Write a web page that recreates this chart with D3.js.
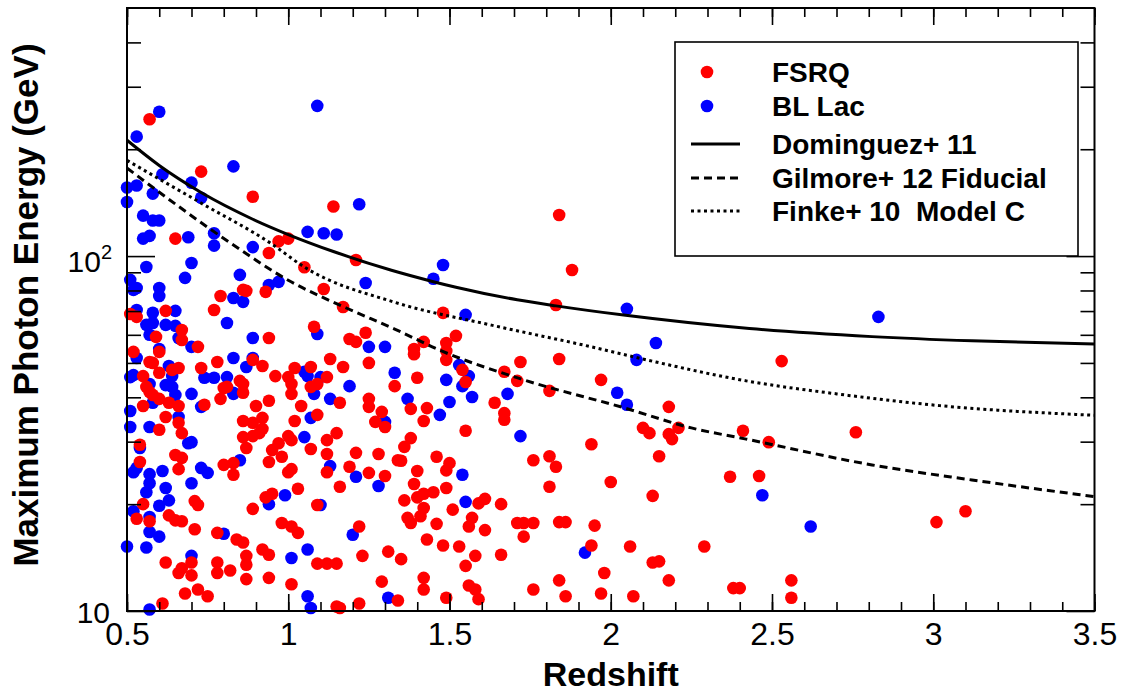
<!DOCTYPE html>
<html>
<head>
<meta charset="utf-8">
<script src="https://cdn.jsdelivr.net/npm/d3@7"></script>
<style>
  body { margin: 0; background: #fff; }
  svg { display: block; }
  text { font-family: "Liberation Sans", Arial, Helvetica, sans-serif; }
</style>
</head>
<body>
<svg id="chart" width="1123" height="694"></svg>
<script>
// data: [redshift, max photon energy in GeV]
var fsrq = [
  [0.57,243],[0.73,173],[0.89,147],[1.14,138],[0.65,112],[0.97,110],[1.00,112],[0.94,102],[1.05,93],[1.21,97.5],
  [0.86,80.3],[0.87,79.8],[0.93,79.3],[1.11,80.8],[0.79,77.2],[0.77,70.5],[1.17,71.9],[0.51,68.7],[0.53,67.4],[0.62,70.1],
  [0.67,61.9],[0.59,59.2],[0.67,58.0],[1.08,63.2],[0.94,58.8],[1.19,58.4],[1.21,57.3],[1.24,60.8],[0.52,53.7],[0.60,53.7],
  [0.72,55.5],[1.25,50.0],[0.57,50.3],[0.58,50.0],[0.64,47.8],[0.66,48.4],[0.78,50.3],[0.89,51.0],[0.73,48.4],[0.92,49.0],
  [0.55,45.9],[0.60,46.9],[0.85,44.5],[0.86,43.6],[0.81,42.8],[0.80,42.5],[0.86,41.2],[0.96,45.9],[1.00,45.6],[1.02,48.4],
  [1.07,48.7],[1.13,51.3],[1.17,48.7],[1.12,45.6],[1.01,43.6],[1.07,42.8],[1.09,43.6],[1.01,40.9],[1.33,43.0],[0.56,42.8],
  [0.57,41.4],[0.58,40.6],[0.60,39.6],[0.55,37.8],[0.63,38.6],[0.66,37.8],[0.74,38.1],[0.79,39.6],[0.90,37.8],[0.94,39.1],
  [1.16,38.6],[1.04,37.8],[1.25,39.6],[1.25,37.6],[1.29,36.4],[1.27,34.1],[1.30,33.0],[0.62,35.2],[0.66,33.9],[0.60,32.4],
  [0.67,31.7],[0.86,34.3],[0.89,33.9],[0.92,35.0],[0.92,32.6],[1.02,34.3],[1.09,35.7],[1.00,31.1],[1.15,31.7],[1.12,30.3],
  [0.86,30.9],[0.89,31.1],[0.54,29.4],[0.65,27.5],[0.67,27.0],[0.54,26.3],[0.66,25.1],[0.80,25.8],[0.83,24.2],[0.83,26.1],
  [0.87,28.8],[0.91,31.7],[0.55,20.0],[0.53,18.2],[0.57,17.9],[0.63,18.6],[0.65,18.0],[0.67,17.9],[0.71,20.4],[0.72,19.9],
  [0.71,17.0],[0.78,16.6],[0.84,15.9],[0.86,15.6],[0.62,13.7],[0.66,12.8],[0.67,13.2],[0.70,13.7],[0.70,12.6],[0.68,11.2],
  [0.72,11.5],[0.75,11.0],[0.78,13.7],[0.78,12.8],[0.82,13.0],[0.87,14.3],[0.87,13.5],[0.87,12.3],[0.92,14.9],[0.94,14.4],
  [0.94,12.4],[1.01,11.9],[1.09,13.6],[1.12,13.6],[1.15,13.6],[1.23,14.3],[1.31,14.7],[1.29,12.1],[1.15,10.3],[1.16,10.2],
  [1.22,10.5],[1.34,10.7],[0.61,10.5],[0.89,19.4],[0.93,20.9],[0.95,21.4],[1.03,22.1],[0.98,17.7],[1.01,17.3],[1.03,16.6],
  [1.22,17.3],[1.09,19.9],[1.16,22.4],[1.30,24.0],[1.25,24.5],[1.19,25.5],[1.34,26.6],[1.12,24.6],[1.07,28.6],[1.12,27.7],
  [1.21,27.9],[1.28,27.7],[1.01,30.3],[0.95,28.4],[0.97,29.7],[0.98,27.2],[0.94,26.3],[1.00,24.6],[1.01,25.1],[1.83,72.8],
  [1.48,69.2],[1.52,59.6],[1.42,57.3],[1.39,54.7],[1.39,52.9],[1.49,56.9],[1.49,54.0],[1.49,51.0],[1.72,50.3],[1.84,51.3],
  [1.40,45.4],[1.54,47.8],[1.55,44.2],[1.67,47.2],[1.71,44.5],[1.97,44.8],[1.81,41.7],[2.18,37.6],[1.64,38.6],[1.67,36.1],
  [1.67,34.6],[1.38,37.1],[1.43,37.3],[1.42,34.3],[1.55,32.2],[2.10,32.8],[2.12,31.7],[2.18,31.5],[2.21,32.8],[2.19,30.5],
  [2.41,32.2],[1.94,29.5],[1.38,30.7],[1.36,29.0],[2.15,27.3],[1.76,26.6],[1.81,27.3],[1.83,25.5],[1.46,27.2],[1.50,26.1],
  [1.49,24.9],[1.40,24.8],[1.35,26.5],[1.39,22.8],[1.49,22.2],[1.45,21.6],[1.42,21.4],[1.40,20.9],[1.36,20.5],[1.81,22.4],
  [2.00,23.1],[2.37,23.9],[2.13,21.1],[1.59,20.1],[1.61,20.7],[1.66,20.0],[1.42,19.5],[1.41,18.5],[1.37,18.3],[1.38,17.7],
  [1.51,19.3],[1.57,18.3],[1.56,17.3],[1.46,17.6],[1.61,16.9],[1.71,17.7],[1.73,17.7],[1.76,17.7],[1.73,16.2],[1.84,17.8],
  [1.86,17.8],[1.95,17.4],[1.43,15.9],[1.48,15.3],[1.53,15.2],[1.58,14.3],[1.55,13.4],[1.66,14.4],[1.35,14.0],[1.94,15.3],
  [2.06,15.2],[2.29,15.2],[2.13,13.7],[2.15,13.8],[1.98,12.8],[2.18,12.2],[1.42,12.4],[1.42,11.5],[1.56,11.8],[1.58,11.5],
  [1.59,10.8],[1.49,10.9],[1.76,11.5],[1.84,12.2],[1.86,11.0],[1.97,11.2],[2.07,11.0],[2.38,11.6],[2.40,11.6],[2.53,50.6],
  [2.76,31.9],[2.49,29.9],[2.46,24.0],[3.01,17.8],[3.10,19.1],[2.56,12.2],[2.56,10.9],[1.84,130.5],[1.88,91.4]
];

var blLac = [
  [0.60,255],[0.53,217],[1.09,265],[0.83,179],[0.61,170],[0.70,161],[0.50,156],[0.53,158],[0.58,150],[0.73,146],
  [0.50,142],[1.22,140],[0.55,130],[0.58,126],[0.60,126],[0.55,112],[0.57,114],[0.69,113],[0.77,116],[0.77,107],
  [0.89,106],[1.06,117],[1.11,116],[1.15,115],[0.56,93.2],[0.70,95.6],[0.68,86.8],[0.85,88.5],[0.51,85.7],[0.52,80.3],
  [0.53,81.3],[0.60,81.3],[0.60,77.2],[0.94,82.9],[0.97,84.6],[1.24,84.0],[0.83,76.2],[0.86,74.3],[0.53,70.5],[0.58,69.2],
  [0.65,70.1],[0.81,64.8],[0.56,64.0],[0.58,64.8],[0.62,64.0],[0.65,63.6],[0.57,60.0],[0.66,58.8],[1.09,60.3],[0.89,58.8],
  [1.25,55.5],[1.30,55.5],[0.60,54.7],[0.70,55.5],[0.53,51.6],[0.63,49.0],[0.83,51.6],[0.89,51.6],[0.87,48.7],[0.51,45.6],
  [0.52,46.2],[0.64,45.9],[0.74,45.4],[0.77,45.4],[0.81,45.6],[0.83,41.2],[1.05,47.2],[1.06,45.9],[1.10,45.6],[1.08,40.9],
  [1.19,43.0],[1.33,46.9],[0.57,43.6],[0.58,38.6],[0.62,43.3],[0.64,42.8],[0.65,40.6],[0.70,40.9],[0.73,37.6],[0.83,40.9],
  [1.13,39.6],[1.30,34.1],[0.51,36.6],[0.66,35.2],[0.51,33.0],[0.57,33.0],[1.07,35.0],[1.05,30.9],[0.54,28.8],[0.69,29.7],
  [0.70,29.9],[0.52,24.6],[0.53,25.3],[0.61,24.8],[0.73,25.3],[0.75,24.5],[0.85,26.6],[0.57,24.3],[0.57,22.9],[0.70,22.9],
  [0.56,21.6],[0.62,22.2],[0.63,20.5],[0.60,19.8],[0.52,19.1],[0.57,18.4],[0.57,16.7],[0.60,16.2],[0.80,16.5],[0.50,15.2],
  [0.56,15.1],[0.70,14.3],[1.01,14.1],[1.06,14.9],[1.06,11.0],[1.07,10.2],[1.31,10.9],[0.57,10.1],[0.94,20.0],[0.99,21.2],
  [1.20,16.4],[1.10,19.9],[1.21,23.9],[1.28,22.5],[1.13,25.6],[2.05,71.0],[1.55,68.3],[2.14,56.9],[2.08,51.0],[1.49,44.8],
  [1.53,49.3],[1.56,45.9],[1.54,43.0],[2.02,41.2],[2.05,38.1],[1.37,39.6],[1.50,38.8],[1.57,40.1],[1.68,40.9],[1.47,35.7],
  [1.72,31.1],[1.54,24.2],[1.55,20.3],[1.92,14.6],[2.83,67.4],[2.47,21.2],[2.62,17.3],[1.48,94.4],[1.45,86.3]
];

// EBL horizon curves
var dominguezZ = [0.5, 0.6, 0.73, 0.89, 1.0, 1.14, 1.32, 1.45, 1.52, 1.71, 1.83, 2.04, 2.43, 2.81, 3.12, 3.5];
var dominguezE = [212, 180, 151, 127, 115, 103, 91.2, 84.7, 81.7, 75.3, 72.4, 68.2, 62.5, 59.3, 57.7, 56.5];
var gilmoreZ = [0.5, 0.82, 1.0, 1.18, 1.33, 1.47, 1.73, 2.04, 2.25, 2.42, 2.81, 3.12, 3.5];
var gilmoreE = [177, 109, 85.5, 71.4, 62.3, 54.3, 44.8, 37.4, 32.8, 30.5, 25.8, 23.4, 21.0];
var finkeZ = [0.5, 0.73, 0.95, 1.05, 1.33, 1.63, 1.94, 2.14, 2.42, 2.71, 3.02, 3.5];
var finkeE = [186, 141, 108, 93.1, 74.1, 63.9, 55.5, 50.3, 44.5, 40.8, 37.9, 35.6];

var xMajor = [0.5, 1, 1.5, 2, 2.5, 3, 3.5];
var xMinor = d3.range(5, 36).map(function(i) { return i / 10; });
var yMajor = [10, 100];
var yMinor = [20, 30, 40, 50, 60, 70, 80, 90, 200, 300, 400];

var legendItems = ['FSRQ', 'BL Lac', 'Dominguez+ 11', 'Gilmore+ 12 Fiducial', 'Finke+ 10  Model C'];

//globals
var width = 1123, height = 694;
var plotL = 127, plotR = 1094.5, plotT = 8, plotB = 611;
var font = '"Liberation Sans", Arial, Helvetica, sans-serif';

var x = d3.scaleLinear().domain([0.5, 3.5]).range([plotL, plotR]);
var y = d3.scaleLog().domain([10, 500]).range([plotB, plotT]);

var svg = d3.select('#chart');
svg.append('rect').attr('width', width).attr('height', height).attr('fill', '#fff');

// points: blue first, red on top
var drawDots = function(data, color) {
  svg.append('g').selectAll('circle').data(data)
    .enter().append('circle')
    .attr('cx', function(d) { return x(d[0]); })
    .attr('cy', function(d) { return y(d[1]); })
    .attr('r', 6.3)
    .attr('fill', color);
};
drawDots(blLac, '#0000ff');
drawDots(fsrq, '#ff0000');

// curves
var line = d3.line()
  .x(function(d) { return x(d[0]); })
  .y(function(d) { return y(d[1]); })
  .curve(d3.curveMonotoneX);

var curves = [
  { data: d3.zip(dominguezZ, dominguezE), dash: null },
  { data: d3.zip(gilmoreZ, gilmoreE), dash: '8,5' },
  { data: d3.zip(finkeZ, finkeE), dash: '3,3.5' }
];
curves.forEach(function(c) {
  svg.append('path')
    .attr('d', line(c.data))
    .attr('fill', 'none')
    .attr('stroke', '#000')
    .attr('stroke-width', 3)
    .attr('stroke-dasharray', c.dash);
});

// axes (ticks point inward, ROOT style)
var styleAxis = function(g) {
  g.select('.domain').remove();
  g.selectAll('.tick line').attr('stroke', '#000').attr('stroke-width', 1.6);
};

svg.append('g').attr('transform', 'translate(0,' + plotB + ')')
  .call(d3.axisBottom(x).tickValues(xMinor).tickSize(-9).tickFormat('')).call(styleAxis);
var xAx = svg.append('g').attr('transform', 'translate(0,' + plotB + ')')
  .call(d3.axisBottom(x).tickValues(xMajor).tickSize(-17).tickPadding(11)
    .tickFormat(function(d) { return String(d); }))
  .call(styleAxis);
xAx.attr('font-size', 32).attr('font-family', font);
xAx.selectAll('text').attr('fill', '#000');

svg.append('g').attr('transform', 'translate(0,' + plotT + ')')
  .call(d3.axisTop(x).tickValues(xMinor).tickSize(-9).tickFormat('')).call(styleAxis);
svg.append('g').attr('transform', 'translate(0,' + plotT + ')')
  .call(d3.axisTop(x).tickValues(xMajor).tickSize(-17).tickFormat('')).call(styleAxis);

svg.append('g').attr('transform', 'translate(' + plotL + ',0)')
  .call(d3.axisLeft(y).tickValues(yMinor).tickSize(-14).tickFormat('')).call(styleAxis);
svg.append('g').attr('transform', 'translate(' + plotL + ',0)')
  .call(d3.axisLeft(y).tickValues(yMajor).tickSize(-28).tickFormat('')).call(styleAxis);
svg.append('g').attr('transform', 'translate(' + plotR + ',0)')
  .call(d3.axisRight(y).tickValues(yMinor).tickSize(-14).tickFormat('')).call(styleAxis);
svg.append('g').attr('transform', 'translate(' + plotR + ',0)')
  .call(d3.axisRight(y).tickValues(yMajor).tickSize(-28).tickFormat('')).call(styleAxis);

// y tick labels: 10 and 10^2
svg.append('text')
  .attr('x', plotL - 17).attr('y', y(10) + 12)
  .attr('text-anchor', 'end').attr('font-size', 30).text('10');
var t100 = svg.append('text')
  .attr('x', plotL - 15).attr('y', y(100) + 16)
  .attr('text-anchor', 'end').attr('font-size', 30);
t100.append('tspan').text('10');
t100.append('tspan').attr('font-size', 20).attr('dy', -13).text('2');

// frame
svg.append('rect')
  .attr('x', plotL).attr('y', plotT)
  .attr('width', plotR - plotL).attr('height', plotB - plotT)
  .attr('fill', 'none').attr('stroke', '#000').attr('stroke-width', 2);

// axis titles
svg.append('text')
  .attr('x', (plotL + plotR) / 2).attr('y', 686)
  .attr('text-anchor', 'middle').attr('font-size', 34).attr('font-weight', 'bold')
  .text('Redshift');
svg.append('text')
  .attr('transform', 'translate(38,305) rotate(-90)')
  .attr('text-anchor', 'middle').attr('font-size', 35).attr('font-weight', 'bold')
  .text('Maximum Photon Energy (GeV)');

// legend
var lg = svg.append('g');
lg.append('rect')
  .attr('x', 675).attr('y', 42).attr('width', 403).attr('height', 214)
  .attr('fill', '#fff').attr('stroke', '#000').attr('stroke-width', 1.6);
var rowY = [72, 106, 144, 178, 211];
lg.append('circle').attr('cx', 707).attr('cy', rowY[0]).attr('r', 6.3).attr('fill', '#ff0000');
lg.append('circle').attr('cx', 707).attr('cy', rowY[1]).attr('r', 6.3).attr('fill', '#0000ff');
[null, '8,5', '3,3.5'].forEach(function(dash, i) {
  lg.append('line')
    .attr('x1', 691).attr('x2', 740)
    .attr('y1', rowY[i + 2]).attr('y2', rowY[i + 2])
    .attr('stroke', '#000').attr('stroke-width', 3)
    .attr('stroke-dasharray', dash);
});
lg.selectAll('text.lab').data(legendItems)
  .enter().append('text')
  .attr('class', 'lab')
  .attr('x', 772)
  .attr('y', function(d, i) { return rowY[i]; })
  .attr('dy', '0.35em')
  .attr('font-size', 28).attr('font-weight', 'bold')
  .style('white-space', 'pre')
  .text(function(d) { return d; });
</script>
</body>
</html>
